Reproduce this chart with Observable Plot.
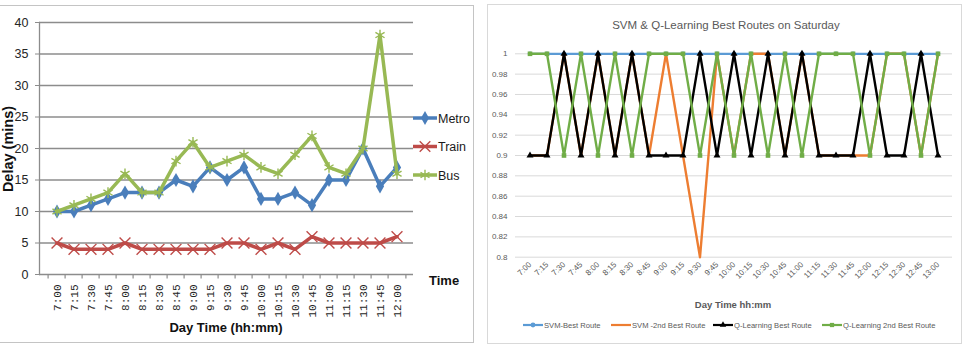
<!DOCTYPE html>
<html>
<head>
<meta charset="utf-8">
<script src="https://cdn.jsdelivr.net/npm/d3@7"></script>
<script src="https://cdn.jsdelivr.net/npm/@observablehq/plot@0.6"></script>
<style>
  body { margin: 0; background: #fff; }
  #wrap { position: relative; width: 969px; height: 350px; overflow: hidden; background: #fff;
          font-family: "Liberation Sans", Arial, sans-serif; }
  .panel { position: absolute; box-sizing: border-box; }
  #wrap svg { position: absolute; overflow: visible; }
</style>
</head>
<body>
<div id="wrap">
  <div class="panel" style="left:-2px;top:5px;width:476px;height:338px;border:1.5px solid #c4c4c4"></div>
  <div class="panel" style="left:487px;top:4px;width:475px;height:340px;border:1px solid #d9d9d9"></div>
</div>
<script>
// ---- Left chart: delay per transport mode ----
const times1 = ["7:00","7:15","7:30","7:45","8:00","8:15","8:30","8:45","9:00","9:15","9:30",
                "9:45","10:00","10:15","10:30","10:45","11:00","11:15","11:30","11:45","12:00"];
const metro = [10,10,11,12,13,13,13,15,14,17,15,17,12,12,13,11,15,15,20,14,17];
const train = [5,4,4,4,5,4,4,4,4,4,5,5,4,5,4,6,5,5,5,5,6];
const bus   = [10,11,12,13,16,13,13,18,21,17,18,19,17,16,19,22,17,16,20,38,16];
const delayTicks = [0,5,10,15,20,25,30,35,40];

// ---- Right chart: best routes on Saturday ----
const times2 = ["7:00","7:15","7:30","7:45","8:00","8:15","8:30","8:45","9:00","9:15","9:30",
                "9:45","10:00","10:15","10:30","10:45","11:00","11:15","11:30","11:45","12:00",
                "12:15","12:30","12:45","13:00"];
const svmBest = [1,1,1,1,1,1,1,1,1,1,1,1,1,1,1,1,1,1,1,1,1,1,1,1,1];
const svm2nd  = [0.9,0.9,1,0.9,1,0.9,1,0.9,1,0.9,0.8,1,0.9,1,1,0.9,1,0.9,0.9,0.9,0.9,1,1,0.9,1];
const qBest   = [0.9,0.9,1,0.9,1,0.9,1,0.9,0.9,0.9,1,0.9,1,0.9,1,0.9,1,0.9,0.9,0.9,1,0.9,0.9,1,0.9];
const q2nd    = [1,1,0.9,1,0.9,1,0.9,1,1,1,0.9,1,0.9,1,0.9,1,0.9,1,1,1,0.9,1,1,0.9,1];
const scoreTicks = [0.8,0.82,0.84,0.86,0.88,0.9,0.92,0.94,0.96,0.98,1];

const C1 = {Metro: "#4a7ebb", Train: "#be4b48", Bus: "#98b954"};
const C2 = {svmBest: "#5b9bd5", svm2nd: "#ed7d31", qBest: "#000000", q2nd: "#70ad47"};

const wrap = document.getElementById("wrap");

// Left plot
const W1 = 473, ML1 = 39, MR1 = 60;
const bw1 = (W1 - ML1 - MR1) / times1.length;
const toRows = (vals, times) => vals.map((v, i) => ({t: times[i], v}));
const metroRows = toRows(metro, times1), trainRows = toRows(train, times1), busRows = toRows(bus, times1);

const left = Plot.plot({
  width: W1, height: 345,
  marginLeft: ML1, marginRight: MR1, marginTop: 22, marginBottom: 71,
  style: {background: "transparent", position: "absolute", left: "0px", top: "0px",
          fontFamily: "Liberation Sans, Arial, sans-serif"},
  x: {type: "band", domain: times1, padding: 0},
  y: {domain: [0, 40]},
  marks: [
    Plot.gridY(delayTicks.filter(d => d > 0), {stroke: "#8c8c8c", strokeOpacity: 1, strokeWidth: 1.3}),
    Plot.ruleY([0], {stroke: "#8c8c8c", strokeWidth: 1.3}),
    Plot.frame({anchor: "left", stroke: "#8c8c8c", strokeWidth: 1.3}),
    Plot.axisY({ticks: delayTicks, tickSize: 4, tickPadding: 7, stroke: "#8c8c8c", fill: "#262626",
                fontSize: 12.5, label: null}),
    Plot.axisX({tickSize: 0, tickPadding: 10, tickRotate: -90, fill: "#262626",
                fontFamily: "Liberation Mono, monospace", fontSize: 11, label: null}),
    // category boundary ticks below the axis
    Plot.ruleX(times1, {x: d => d, dx: -bw1 / 2, y1: 0, y2: -0.7, stroke: "#8c8c8c", strokeWidth: 1.2}),
    Plot.ruleX(times1.slice(-1), {x: d => d, dx: bw1 / 2, y1: 0, y2: -0.7, stroke: "#8c8c8c", strokeWidth: 1.2}),
    Plot.line(metroRows, {x: "t", y: "v", stroke: C1.Metro, strokeWidth: 3.5}),
    Plot.dot(metroRows, {x: "t", y: "v", symbol: "diamond", r: 4.3, fill: C1.Metro}),
    Plot.line(trainRows, {x: "t", y: "v", stroke: C1.Train, strokeWidth: 3.5}),
    Plot.dot(trainRows, {x: "t", y: "v", symbol: "times", r: 5, stroke: C1.Train, strokeWidth: 1.4}),
    Plot.line(busRows, {x: "t", y: "v", stroke: C1.Bus, strokeWidth: 3.5}),
    Plot.dot(busRows, {x: "t", y: "v", symbol: "asterisk", r: 5, stroke: C1.Bus, strokeWidth: 1.4})
  ]
});
wrap.appendChild(left);

// Right plot
const R = (vals) => toRows(vals, times2);
const right = Plot.plot({
  width: 474, height: 345,
  marginLeft: 28, marginRight: 9, marginTop: 53.3, marginBottom: 88.3,
  style: {background: "transparent", position: "absolute", left: "487px", top: "0px",
          fontFamily: "Liberation Sans, Arial, sans-serif"},
  x: {type: "band", domain: times2, padding: 0},
  y: {domain: [0.8, 1]},
  marks: [
    Plot.gridY(scoreTicks, {stroke: "#d9d9d9", strokeOpacity: 1, strokeWidth: 1}),
    Plot.axisY({ticks: scoreTicks, tickSize: 0, tickPadding: 8, tickFormat: d => String(d),
                fill: "#595959", fontSize: 8, label: null}),
    Plot.axisX({tickSize: 0, tickPadding: 6, tickRotate: -45, fill: "#595959", fontSize: 8, label: null}),
    Plot.line(R(svmBest), {x: "t", y: "v", stroke: C2.svmBest, strokeWidth: 2.2}),
    Plot.dot(R(svmBest), {x: "t", y: "v", r: 2.3, fill: C2.svmBest}),
    Plot.line(R(svm2nd), {x: "t", y: "v", stroke: C2.svm2nd, strokeWidth: 2.4}),
    Plot.line(R(qBest), {x: "t", y: "v", stroke: C2.qBest, strokeWidth: 2.4}),
    Plot.dot(R(qBest), {x: "t", y: "v", symbol: "triangle", r: 2.6, fill: C2.qBest}),
    Plot.line(R(q2nd), {x: "t", y: "v", stroke: C2.q2nd, strokeWidth: 2.4}),
    Plot.dot(R(q2nd), {x: "t", y: "v", symbol: "square", r: 2.6, fill: C2.q2nd})
  ]
});
wrap.appendChild(right);

// Titles, axis names and legends
const ov = d3.select(wrap).append("svg")
  .attr("width", 969).attr("height", 350)
  .style("left", "0px").style("top", "0px")
  .style("font-family", "Liberation Sans, Arial, sans-serif");

ov.append("text").attr("transform", "translate(13,149) rotate(-90)")
  .attr("text-anchor", "middle").attr("font-weight", "bold").attr("font-size", 14.5)
  .attr("fill", "#111").text("Delay (mins)");
ov.append("text").attr("x", 226).attr("y", 331.5).attr("text-anchor", "middle")
  .attr("font-weight", "bold").attr("font-size", 13).attr("fill", "#111").text("Day Time (hh:mm)");
ov.append("text").attr("x", 429).attr("y", 285).attr("font-weight", "bold")
  .attr("font-size", 13).attr("fill", "#111").text("Time");

const leg1 = [
  {name: "Metro", color: C1.Metro, sym: d3.symbolDiamond, fill: true, size: 55},
  {name: "Train", color: C1.Train, sym: d3.symbolTimes, fill: false, size: 75},
  {name: "Bus",   color: C1.Bus,   sym: d3.symbolAsterisk, fill: false, size: 75}
];
leg1.forEach((d, i) => {
  const y = 118 + i * 28.5;
  const g = ov.append("g");
  g.append("line").attr("x1", 413).attr("x2", 437).attr("y1", y).attr("y2", y)
    .attr("stroke", d.color).attr("stroke-width", 3.5);
  g.append("path").attr("transform", `translate(425,${y})`)
    .attr("d", d3.symbol(d.sym, d.size)())
    .attr("fill", d.fill ? d.color : "none").attr("stroke", d.fill ? "none" : d.color)
    .attr("stroke-width", 1.4);
  g.append("text").attr("x", 438).attr("y", y + 4.5).attr("font-size", 12.5)
    .attr("fill", "#1a1a1a").text(d.name);
});

ov.append("text").attr("x", 726).attr("y", 28.5).attr("text-anchor", "middle")
  .attr("font-size", 11.5).attr("fill", "#595959").text("SVM & Q-Learning Best Routes on Saturday");
ov.append("text").attr("x", 733).attr("y", 308).attr("text-anchor", "middle")
  .attr("font-weight", "bold").attr("font-size", 9.5).attr("fill", "#595959").text("Day Time hh:mm");

const leg2 = [
  {name: "SVM-Best Route", color: C2.svmBest, sym: d3.symbolCircle, x: 523},
  {name: "SVM -2nd Best Route", color: C2.svm2nd, sym: null, x: 611},
  {name: "Q-Learning Best Route", color: C2.qBest, sym: d3.symbolTriangle, x: 713},
  {name: "Q-Learning 2nd Best Route", color: C2.q2nd, sym: d3.symbolSquare, x: 822}
];
leg2.forEach(d => {
  const y = 325;
  const g = ov.append("g");
  g.append("line").attr("x1", d.x).attr("x2", d.x + 20).attr("y1", y).attr("y2", y)
    .attr("stroke", d.color).attr("stroke-width", 2.2);
  if (d.sym) g.append("path").attr("transform", `translate(${d.x + 10},${y})`)
    .attr("d", d3.symbol(d.sym, 18)()).attr("fill", d.color);
  g.append("text").attr("x", d.x + 21).attr("y", y + 2.8).attr("font-size", 7.6)
    .attr("fill", "#595959").text(d.name);
});
</script>
</body>
</html>
